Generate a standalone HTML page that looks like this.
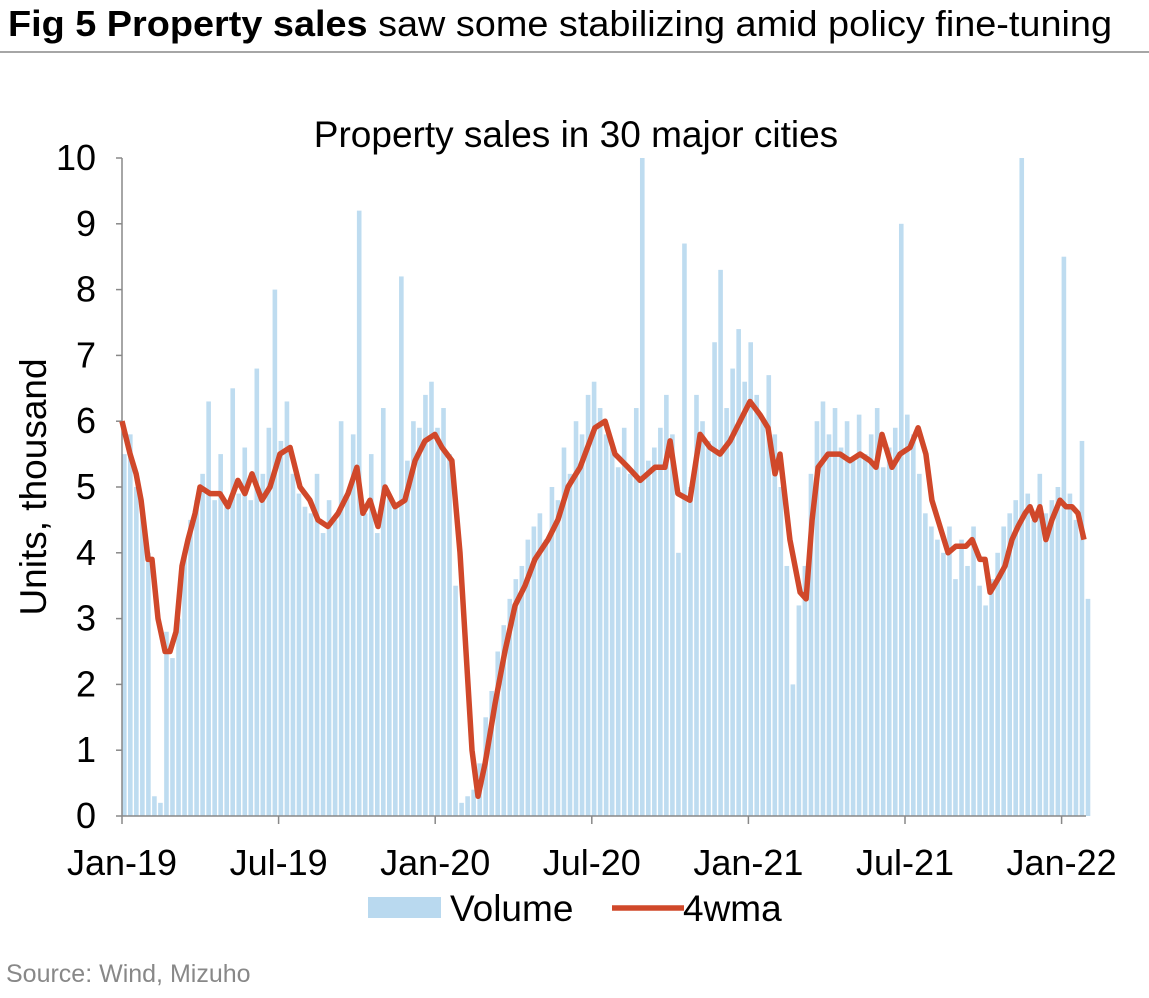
<!DOCTYPE html>
<html><head><meta charset="utf-8"><style>
body{margin:0;background:#fff;font-family:"Liberation Sans",Arial,sans-serif;}
</style></head><body>
<svg width="1149" height="993" viewBox="0 0 1149 993" xmlns="http://www.w3.org/2000/svg" font-family="Liberation Sans, Arial, sans-serif">
<text x="8" y="36" font-size="36" fill="#000" textLength="1104" lengthAdjust="spacingAndGlyphs"><tspan font-weight="bold">Fig 5  Property sales</tspan> saw some stabilizing amid policy fine-tuning</text>
<line x1="0" y1="52" x2="1149" y2="52" stroke="#888" stroke-width="1.5"/>
<text x="576" y="147" font-size="37" text-anchor="middle">Property sales in 30 major cities</text>
<text transform="translate(46,487) rotate(-90)" font-size="37" text-anchor="middle">Units, thousand</text>
<g id="bars"></g>
<g id="yaxis"></g>
<g id="xaxis"></g>
<path id="line" fill="none" stroke="#d0482a" stroke-width="5.5" stroke-linejoin="round"/>
<g>
<rect x="368" y="897" width="73" height="21" fill="#b9d9ef"/>
<text x="450" y="921" font-size="37">Volume</text>
<line x1="612" y1="908" x2="684" y2="908" stroke="#d0482a" stroke-width="5.5"/>
<text x="683" y="921" font-size="37">4wma</text>
</g>
<text x="6" y="982" font-size="25" fill="#888">Source: Wind, Mizuho</text>
</svg>
<script>
const yTicks=[0,1,2,3,4,5,6,7,8,9,10];
const xLabels=["Jan-19","Jul-19","Jan-20","Jul-20","Jan-21","Jul-21","Jan-22"];
const xLabelMonths=[0,6,12,18,24,30,36];
const volume=[5.5,5.8,5.0,4.6,4.0,0.3,0.2,2.8,2.4,3.0,4.0,4.5,4.8,
5.2,6.3,4.8,5.5,4.7,6.5,4.9,5.6,4.8,6.8,5.2,5.9,8.0,5.7,6.3,5.2,4.9,4.7,
4.6,5.2,4.3,4.8,4.5,6.0,4.9,5.8,9.2,4.6,5.5,4.3,6.2,4.9,4.7,8.2,5.4,6.0,5.9,6.4,6.6,
5.9,6.2,5.5,3.5,0.2,0.3,0.4,0.8,1.5,1.9,2.5,2.9,3.3,3.6,3.8,4.2,
4.4,4.6,4.2,5.0,4.8,5.6,5.2,6.0,5.8,6.4,6.6,6.2,5.8,5.6,5.3,5.9,5.2,6.2,
10.0,5.4,5.6,5.9,6.4,5.8,4.0,8.7,5.0,6.4,6.0,5.7,7.2,
8.3,6.2,6.8,7.4,6.6,7.2,6.4,6.0,6.7,5.8,5.0,3.8,2.0,3.2,3.8,
5.2,6.0,6.3,5.8,6.2,5.6,6.0,5.4,6.1,5.5,5.8,6.2,5.3,5.6,5.9,9.0,6.1,
5.8,5.2,4.6,4.4,4.2,4.0,4.4,3.6,4.2,3.8,4.4,3.5,3.2,3.6,4.0,4.4,4.6,4.8,10.0,4.9,
4.5,5.2,4.6,4.8,5.0,8.5,4.9,4.5,5.7,3.3];
const maMonths=[0,0.31,0.54,0.73,1.0,1.15,1.38,1.65,1.84,2.07,2.3,2.53,2.8,2.99,3.37,3.75,4.06,4.44,4.71,4.98,5.36,5.67,6.05,6.44,6.82,7.2,7.51,7.89,8.28,8.66,9.0,9.23,9.5,9.81,10.08,10.46,10.84,11.23,11.61,11.99,12.26,12.64,12.95,13.18,13.41,13.64,13.91,14.29,14.67,15.06,15.44,15.82,16.32,16.7,17.09,17.55,18.12,18.51,18.89,19.39,19.85,20.42,20.8,21.0,21.3,21.76,22.15,22.53,22.91,23.3,23.68,24.06,24.44,24.75,25.02,25.21,25.59,25.98,26.21,26.44,26.67,27.05,27.51,27.89,28.28,28.66,28.89,29.12,29.5,29.81,30.19,30.5,30.8,31.03,31.34,31.65,31.95,32.34,32.57,32.87,33.07,33.26,33.56,33.83,34.1,34.33,34.6,34.79,34.98,35.17,35.4,35.63,35.94,36.17,36.4,36.63,36.86];
const maValues=[6.0,5.5,5.2,4.8,3.9,3.9,3.0,2.5,2.5,2.8,3.8,4.2,4.6,5.0,4.9,4.9,4.7,5.1,4.9,5.2,4.8,5.0,5.5,5.6,5.0,4.8,4.5,4.4,4.6,4.9,5.3,4.6,4.8,4.4,5.0,4.7,4.8,5.4,5.7,5.8,5.6,5.4,4.0,2.5,1.0,0.3,0.8,1.7,2.5,3.2,3.5,3.9,4.2,4.5,5.0,5.3,5.9,6.0,5.5,5.3,5.1,5.3,5.3,5.7,4.9,4.8,5.8,5.6,5.5,5.7,6.0,6.3,6.1,5.9,5.2,5.5,4.2,3.4,3.3,4.5,5.3,5.5,5.5,5.4,5.5,5.4,5.3,5.8,5.3,5.5,5.6,5.9,5.5,4.8,4.4,4.0,4.1,4.1,4.2,3.9,3.9,3.4,3.6,3.8,4.2,4.4,4.6,4.7,4.5,4.7,4.2,4.5,4.8,4.7,4.7,4.6,4.2];
const X0=122,PXM=26.1,Y0=816,PXU=65.8;
const xs=m=>X0+m*PXM, ys=v=>Y0-v*PXU;
const NS="http://www.w3.org/2000/svg";
function mk(t,a,p){const e=document.createElementNS(NS,t);for(const k in a)e.setAttribute(k,a[k]);p.appendChild(e);return e;}
const bars=document.getElementById('bars');
const wk=12/52;
volume.forEach((v,i)=>{const x=xs(i*wk);
const r=mk('rect',{x:x,y:ys(v),width:4.6,height:Y0-ys(v),fill:'#bedcf0'},bars);

});
const ya=document.getElementById('yaxis');
const yl=mk('line',{x1:X0,y1:ys(10),x2:X0,y2:Y0,stroke:'#888','stroke-width':1.5},ya);


yTicks.forEach(t=>{const tk=mk('line',{x1:X0-6,y1:ys(t),x2:X0,y2:ys(t),stroke:'#888','stroke-width':1.5},ya);


const tx=mk('text',{x:96,y:ys(t)+12,'font-size':36,'text-anchor':'end'},ya);tx.textContent=t;

});
const xa=document.getElementById('xaxis');
const xl=mk('line',{x1:X0,y1:Y0,x2:1086,y2:Y0,stroke:'#888','stroke-width':1.5},xa);


xLabels.forEach((l,i)=>{const x=xs(xLabelMonths[i]);
const tk=mk('line',{x1:x,y1:Y0,x2:x,y2:Y0+8,stroke:'#888','stroke-width':1.5},xa);


const tx=mk('text',{x:x,y:875,'font-size':36,'text-anchor':'middle'},xa);tx.textContent=l;

});
document.getElementById('line').setAttribute('d',maValues.map((v,i)=>(i?'L':'M')+xs(maMonths[i]).toFixed(1)+','+ys(v).toFixed(1)).join(''));
</script>
</body></html>
